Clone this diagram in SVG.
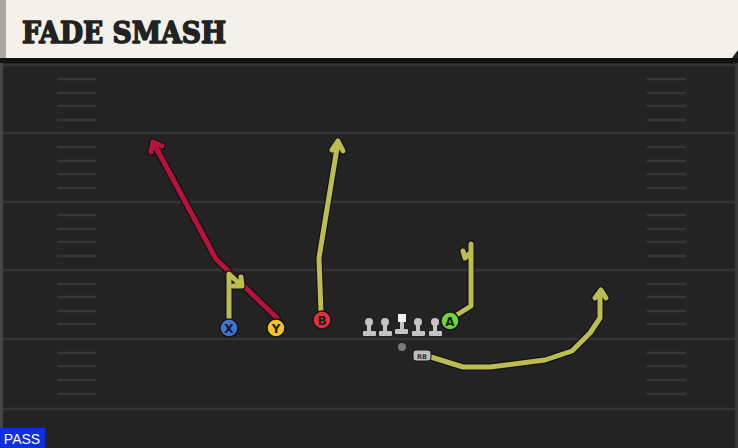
<svg xmlns="http://www.w3.org/2000/svg" width="738" height="448" viewBox="0 0 738 448">
<style>
.yard{stroke:#353535;stroke-width:2.5}
.hash{stroke:#363636;stroke-width:2.5}
.out{fill:none;stroke:#121212;stroke-width:7.5;stroke-linejoin:round;stroke-linecap:round}
.ry{fill:none;stroke:#bcbc50;stroke-width:5;stroke-linejoin:round;stroke-linecap:round}
.rr{fill:none;stroke:#b5133a;stroke-width:5;stroke-linejoin:round;stroke-linecap:round}
.pl{stroke:#161616;stroke-width:1.5}
.lt{font-family:"DejaVu Sans","Liberation Sans",sans-serif;font-weight:bold;font-size:12px;fill:#1a1a1a;text-anchor:middle}
.ol{fill:#c4c4c4}
</style>
<rect x="0" y="0" width="738" height="448" fill="#232323"/>
<rect x="0" y="60" width="3" height="388" fill="#454545"/>
<rect x="735" y="60" width="3" height="388" fill="#383838"/>
<!-- header -->
<rect x="0" y="58" width="738" height="5" fill="#121212"/>
<path d="M5 0 H738 V50 L732 58 H5 Z" fill="#f4f1ea"/>
<rect x="0" y="0" width="6" height="58" fill="#a9a9a2"/>
<text x="22" y="43" font-family="'DejaVu Serif',serif" font-weight="bold" font-size="29" fill="#222" stroke="#222" stroke-width="1.6" stroke-linejoin="round" textLength="204" lengthAdjust="spacingAndGlyphs">FADE SMASH</text>
<!-- field lines -->
<g id="field">
<line class="yard" x1="3" y1="65" x2="735" y2="65"/>
<line class="yard" x1="3" y1="133" x2="735" y2="133"/>
<line class="yard" x1="3" y1="202" x2="735" y2="202"/>
<line class="yard" x1="3" y1="270" x2="735" y2="270"/>
<line class="yard" x1="3" y1="339" x2="735" y2="339"/>
<line class="yard" x1="3" y1="409" x2="735" y2="409"/>
<g class="hash">
<path d="M57 79H96M57 93H96M57 106H96M57 120H96M57 147H96M57 161H96M57 174H96M57 188H96M57 215H96M57 229H96M57 242H96M57 256H96M57 284H96M57 297H96M57 311H96M57 324H96M57 353H96M57 366H96M57 380H96M57 394H96"/>
<path d="M647 79H686M647 93H686M647 106H686M647 120H686M647 147H686M647 161H686M647 174H686M647 188H686M647 215H686M647 229H686M647 242H686M647 256H686M647 284H686M647 297H686M647 311H686M647 324H686M647 353H686M647 366H686M647 380H686M647 394H686"/>
</g>
</g>
<!-- routes -->
<g id="connectors">
<path class="out" d="M277 318 L216 259 L153 142 M151 152 L153 142 L162 146"/>
<path class="rr" d="M277 318 L216 259 L153 142 M151 152 L153 142 L162 146"/>
<path class="out" d="M229 320 V274 L241 285 M233 286 L242 286 L241 277"/>
<path class="ry" d="M229 320 V274 L241 285 M233 286 L242 286 L241 277"/>
<path class="out" d="M321 312 L319 258 L338 142 M332 150 L338 141 L343 151"/>
<path class="ry" d="M321 312 L319 258 L338 142 M332 150 L338 141 L343 151"/>
<path class="out" d="M452 318 L471 306 V244 M463 251 L465 258 L469 254"/>
<path class="ry" d="M452 318 L471 306 V244 M463 251 L465 258 L469 254"/>
<path class="out" d="M431 357 L463 367 L490 367 L545 360 L572 351 L590 333 L600 318 V291 M595 298 L601 290 L606 298"/>
<path class="ry" d="M431 357 L463 367 L490 367 L545 360 L572 351 L590 333 L600 318 V291 M595 298 L601 290 L606 298"/>
</g>
<!-- players -->
<g id="X"><circle class="pl" cx="229" cy="328" r="9" fill="#3f74d8"/><text class="lt" x="229" y="332.5">X</text></g>
<g id="Y"><circle class="pl" cx="276" cy="328" r="9" fill="#f2c51d"/><text class="lt" x="276" y="332.5">Y</text></g>
<g id="B"><circle class="pl" cx="322" cy="320" r="9" fill="#e2303f"/><text class="lt" x="322" y="324.5">B</text></g>
<g id="A"><circle class="pl" cx="450" cy="321" r="9" fill="#6fd53b"/><text class="lt" x="450" y="325.5">A</text></g>
<g id="LT"><circle class="ol" cx="369" cy="322" r="4"/><rect class="ol" x="367" y="322" width="4" height="10"/><rect class="ol" x="363" y="331" width="13" height="5" rx="1"/></g>
<g id="LG"><circle class="ol" cx="385" cy="322" r="4"/><rect class="ol" x="383" y="322" width="4" height="10"/><rect class="ol" x="379" y="331" width="13" height="5" rx="1"/></g>
<g id="C"><rect x="398" y="314" width="8" height="8" fill="#f4f4f4"/><rect class="ol" x="400" y="322" width="4" height="8"/><rect class="ol" x="395" y="329" width="13" height="5" rx="1"/></g>
<g id="RG"><circle class="ol" cx="418" cy="322" r="4"/><rect class="ol" x="416" y="322" width="4" height="10"/><rect class="ol" x="412" y="331" width="13" height="5" rx="1"/></g>
<g id="RT"><circle class="ol" cx="435" cy="322" r="4"/><rect class="ol" x="433" y="322" width="4" height="10"/><rect class="ol" x="429" y="331" width="13" height="5" rx="1"/></g>
<g id="QB"><circle cx="402" cy="347" r="4" fill="#7a7a7a"/></g>
<g id="RB"><rect x="413" y="350" width="18" height="11" rx="3" fill="#bdbdbd" stroke="#161616" stroke-width="1"/><text x="422" y="358.5" font-family="'DejaVu Sans',sans-serif" font-size="6.5" font-weight="bold" fill="#333" text-anchor="middle">RB</text></g>
<!-- PASS label -->
<g id="pass"><rect x="0" y="428" width="45" height="20" fill="#0d2fdc"/><text x="22" y="444" font-family="'Liberation Sans',sans-serif" font-size="14" fill="#fff" text-anchor="middle">PASS</text></g>
</svg>
